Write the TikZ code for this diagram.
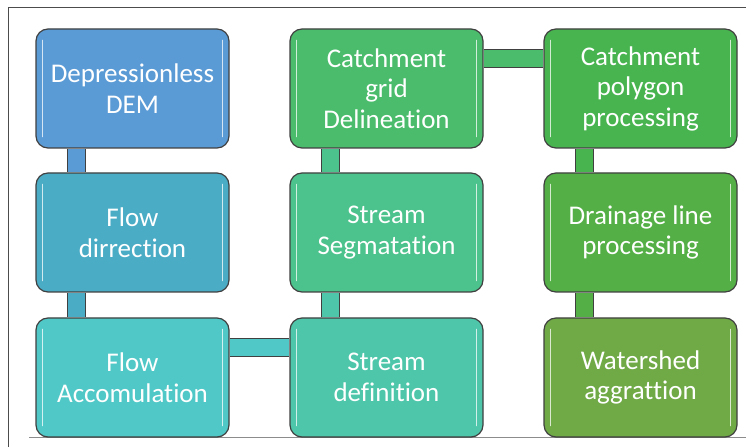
\documentclass[tikz,border=0pt]{standalone}
\usepackage{fontspec}
\setmainfont{Carlito}[Ligatures=NoCommon,Contextuals=NoAlternate]
\usetikzlibrary{backgrounds}
\definecolor{cdem}{RGB}{91,155,213}
\definecolor{cdir}{RGB}{75,172,198}
\definecolor{cacc}{RGB}{80,200,199}
\definecolor{cdef}{RGB}{78,198,170}
\definecolor{cseg}{RGB}{76,194,140}
\definecolor{cgrid}{RGB}{74,188,108}
\definecolor{cpoly}{RGB}{72,180,80}
\definecolor{cdrain}{RGB}{84,176,70}
\definecolor{cshed}{RGB}{112,170,70}
\begin{document}
\begin{tikzpicture}[x=1pt,y=1pt,
	stage/.style={draw=black!75, line width=1.2pt, rounded corners=12pt,
		minimum width=193pt, minimum height=119pt, inner sep=0pt,
		text=white, align=center, font=\fontsize{27}{30.5}\selectfont},
	link/.style={draw=black!75, line width=1.2pt, double distance=17pt},
	shine/.style={white, opacity=.75, line width=1.5pt, line cap=round}]
\useasboundingbox (0,0) rectangle (746,447);
% frame
\draw[black!70, line width=1pt] (8,0) -- (8,439) -- (746,439);
\draw[black!45, line width=.8pt] (29,10) -- (746,10);
% first column
\node[stage, fill=cdem] (dem) at (132.5,358.5) {Depressionless\\DEM};
\node[stage, fill=cdir] (fdir) at (132.5,214.5) {Flow\\dirrection};
\node[stage, fill=cacc] (facc) at (132.5,69.5) {Flow\\Accomulation};
% second column
\node[stage, fill=cgrid] (grid) at (386.5,358.5) {Catchment\\grid\\Delineation};
\node[stage, fill=cseg] (seg) at (386.5,214.5) {Stream\\Segmatation};
\node[stage, fill=cdef] (sdef) at (386.5,69.5) {Stream\\definition};
% third column
\node[stage, fill=cpoly] (poly) at (640.5,358.5) {Catchment\\polygon\\processing};
\node[stage, fill=cdrain] (drain) at (640.5,214.5) {Drainage line\\processing};
\node[stage, fill=cshed] (shed) at (640.5,69.5) {Watershed\\aggrattion};
\foreach \n in {dem,fdir,facc,grid,seg,sdef,poly,drain,shed}{
	\draw[shine] ([shift={(7,-12)}]\n.north west) -- ([shift={(7,12)}]\n.south west);
	\draw[shine] ([shift={(-7,-12)}]\n.north east) -- ([shift={(-7,12)}]\n.south east);
}
\begin{scope}[on background layer]
	\draw[link, double=cdem] ([xshift=-56pt]dem.south) -- ([xshift=-56pt]fdir.north);
	\draw[link, double=cdir] ([xshift=-56pt]fdir.south) -- ([xshift=-56pt]facc.north);
	\draw[link, double=cacc] ([yshift=30pt]facc.east) -- ([yshift=30pt]sdef.west);
	\draw[link, double=cdef] ([xshift=-56pt]sdef.north) -- ([xshift=-56pt]seg.south);
	\draw[link, double=cseg] ([xshift=-56pt]seg.north) -- ([xshift=-56pt]grid.south);
	\draw[link, double=cgrid] ([yshift=30pt]grid.east) -- ([yshift=30pt]poly.west);
	\draw[link, double=cpoly] ([xshift=-56pt]poly.south) -- ([xshift=-56pt]drain.north);
	\draw[link, double=cdrain] ([xshift=-56pt]drain.south) -- ([xshift=-56pt]shed.north);
\end{scope}
\end{tikzpicture}
\end{document}
